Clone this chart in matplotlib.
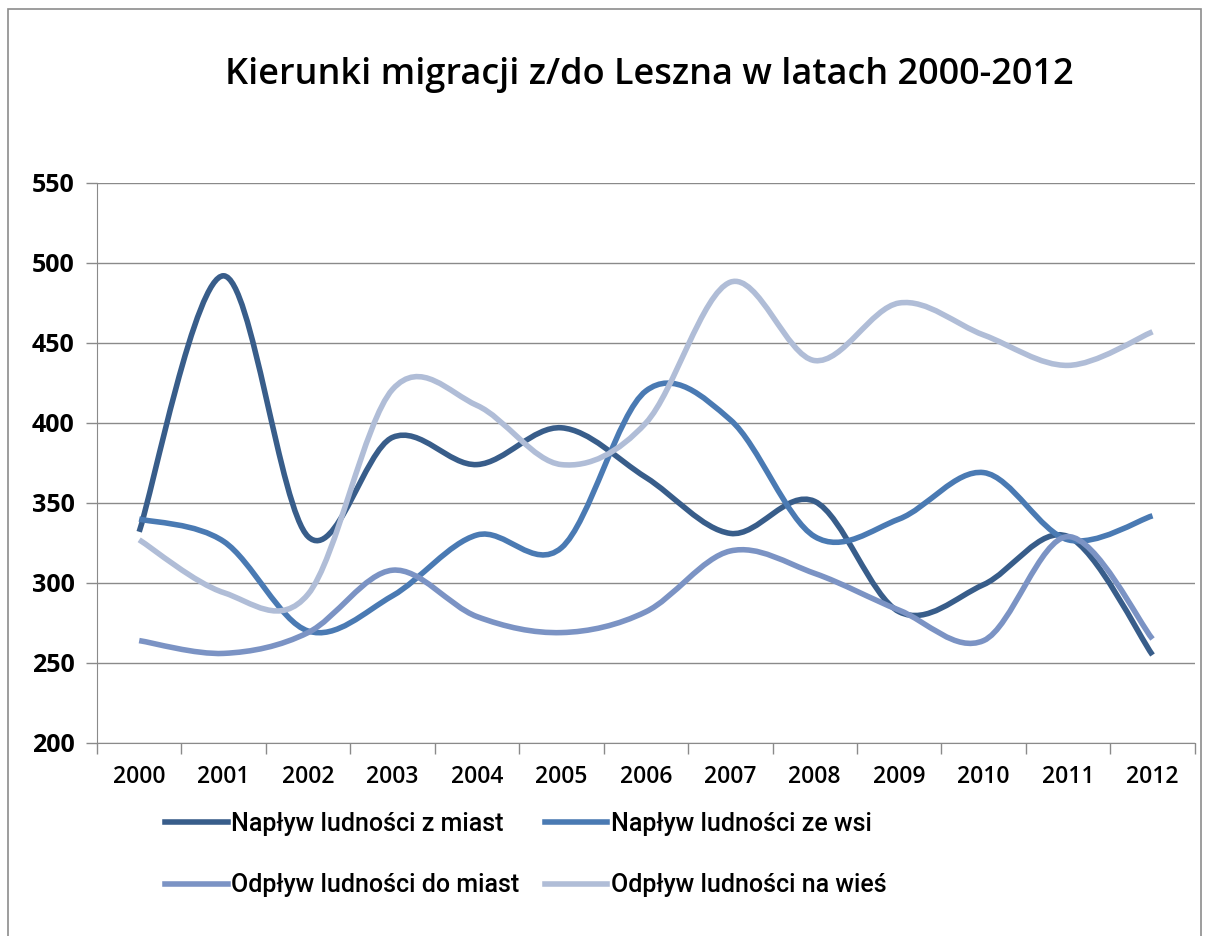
import numpy as np
import matplotlib.pyplot as plt
from matplotlib.path import Path
from matplotlib.patches import PathPatch, Rectangle
from matplotlib.lines import Line2D

plt.rcParams['font.family'] = ['Open Sans', 'DejaVu Sans']

lata = ["2000", "2001", "2002", "2003", "2004", "2005", "2006",
        "2007", "2008", "2009", "2010", "2011", "2012"]
naplyw_miasta = [332, 492, 329, 391, 374, 397, 366, 331, 351, 282, 299, 329, 255]
naplyw_wies = [340, 326, 270, 292, 330, 322, 420, 402, 329, 340, 369, 327, 342]
odplyw_miasta = [264, 256, 269, 308, 279, 269, 282, 320, 306, 283, 264, 329, 265]
odplyw_wies = [327, 294, 293, 421, 411, 374, 400, 488, 439, 475, 455, 436, 457]

serie = [
    ("Napływ ludności z miast", naplyw_miasta, "#385d8a"),
    ("Napływ ludności ze wsi", naplyw_wies, "#4a7ab3"),
    ("Odpływ ludności do miast", odplyw_miasta, "#7b93c4"),
    ("Odpływ ludności na wieś", odplyw_wies, "#b0bdd7"),
]


def gladka_sciezka(y):
    # bezier curve through the points, like excel's smoothed line
    x = np.arange(len(y), dtype=float)
    y = np.asarray(y, dtype=float)
    n = len(y)
    verts = [(x[0], y[0])]
    codes = [Path.MOVETO]
    for i in range(n - 1):
        p0 = max(i - 1, 0)
        p3 = min(i + 2, n - 1)
        c1 = (x[i] + (x[i + 1] - x[p0]) / 6, y[i] + (y[i + 1] - y[p0]) / 6)
        c2 = (x[i + 1] - (x[p3] - x[i]) / 6, y[i + 1] - (y[p3] - y[i]) / 6)
        verts += [c1, c2, (x[i + 1], y[i + 1])]
        codes += [Path.CURVE4] * 3
    return Path(verts, codes)


fig = plt.figure(figsize=(12.09, 9.36), dpi=100)
fig.patches.append(Rectangle((0.007, -0.01), 0.986, 1.0, transform=fig.transFigure,
                             fill=False, edgecolor="#8c8c8c", lw=1.2))

ax = fig.add_axes([0.0802, 0.2062, 0.908, 0.5983])

for nazwa, wartosci, kolor in serie:
    ax.add_patch(PathPatch(gladka_sciezka(wartosci), fill=False, edgecolor=kolor,
                           lw=4, capstyle="butt", joinstyle="round"))

ax.set_xlim(-0.5, 12.5)
ax.set_ylim(200, 550)
ax.set_yticks(np.arange(200, 551, 50))
ax.yaxis.grid(True, color="#8a8a8a", lw=1)
ax.set_axisbelow(True)
ax.set_xticks(range(len(lata)))
ax.set_xticklabels(lata, fontsize=16.5, fontweight="semibold")
ax.set_xticks(np.arange(-0.5, 12.6, 1), minor=True)
ax.tick_params(axis="x", which="major", length=0, pad=16)
ax.tick_params(axis="x", which="minor", length=8, color="#8a8a8a", width=1)
ax.tick_params(axis="y", length=8, color="#8a8a8a", width=1, pad=8, labelsize=18)
for lab in ax.get_yticklabels():
    lab.set_fontweight("bold")
for s in ["top", "right"]:
    ax.spines[s].set_visible(False)
for s in ["left", "bottom"]:
    ax.spines[s].set_color("#8a8a8a")

fig.text(0.537, 0.92, "Kierunki migracji z/do Leszna w latach 2000-2012",
         ha="center", va="center", fontsize=26, fontweight="semibold")

# excel fills the legend row by row
kolejnosc = [0, 2, 1, 3]
uchwyty = [Line2D([], [], color=serie[i][2], lw=4) for i in kolejnosc]
etykiety = [serie[i][0] for i in kolejnosc]
fig.legend(uchwyty, etykiety, ncol=2, loc="center",
           bbox_to_anchor=(0.435, 0.087), frameon=False,
           prop={"family": ["Roboto", "DejaVu Sans"], "size": 18, "weight": "medium"},
           handlelength=2.5, handletextpad=0.15, columnspacing=1.0,
           labelspacing=1.5)

plt.savefig("out.png", dpi=100)
